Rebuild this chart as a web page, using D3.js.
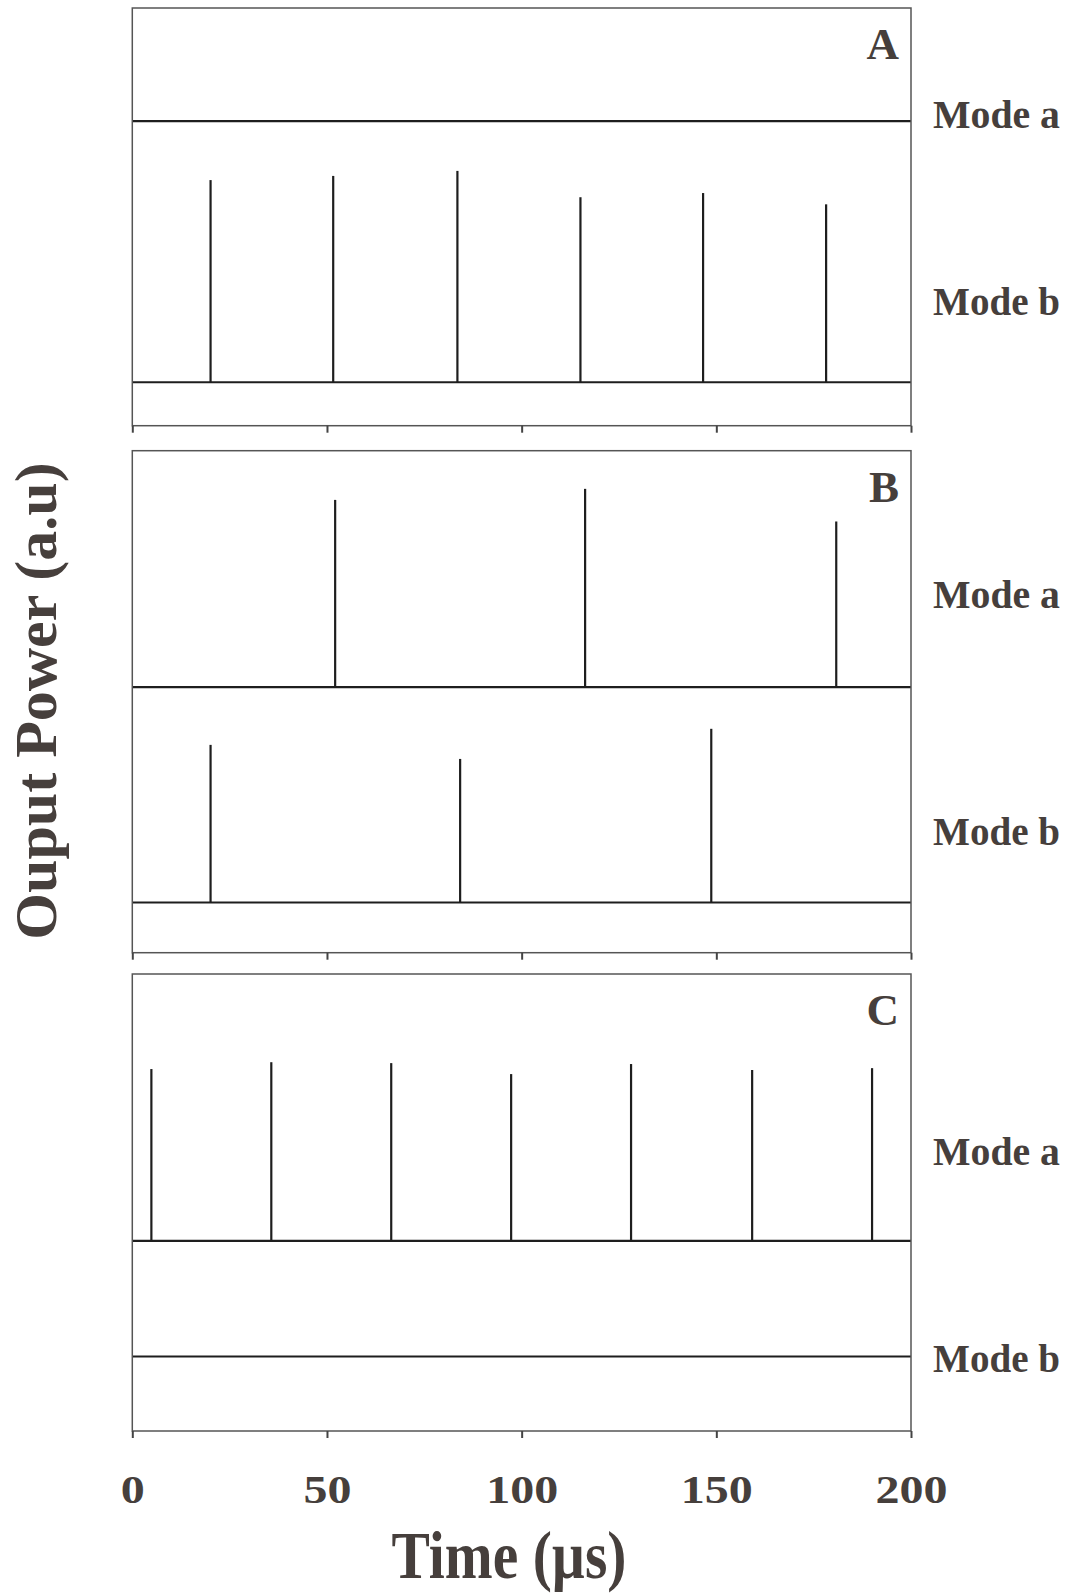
<!DOCTYPE html>
<html>
<head>
<meta charset="utf-8">
<script src="https://cdn.jsdelivr.net/npm/d3@7"></script>
<style>
  body { margin: 0; background: #fff; }
  text { font-family: "Liberation Serif", "Times New Roman", serif; font-weight: bold; fill: #463f3c; }
</style>
</head>
<body>
<div id="chart"></div>
<script>
var width = 1066,
  height = 1593;

// x axis (time in microseconds)
const timeTicks = [0, 50, 100, 150, 200];
const panelNames = ['A', 'B', 'C'];

// baseline level of each trace (a.u., 0-100 of panel height)
const baseA = [72.9, 10.4];   // mode a, mode b
const baseB = [52.9, 10.0];
const baseC = [41.6, 16.3];

// spike times (us) and peak levels (a.u.)
const spikeTimesA_b = [20.1, 51.6, 83.5, 115.1, 146.6, 178.2];
const spikePeaksA_b = [58.8, 59.8, 61.0, 54.7, 55.7, 53.0];

const spikeTimesB_a = [52.1, 116.3, 180.8];
const spikePeaksB_a = [90.2, 92.4, 85.9];
const spikeTimesB_b = [20.1, 84.2, 148.7];
const spikePeaksB_b = [41.4, 38.6, 44.6];

const spikeTimesC_a = [4.9, 35.7, 66.5, 97.3, 128.1, 159.2, 190.0];
const spikePeaksC_a = [79.2, 80.7, 80.5, 78.1, 80.3, 79.0, 79.4];

// panel layout (pixels)
var left = 132.3, right = 911;
var panels = [
  { name: panelNames[0], top: 8, bottom: 425.7, base: baseA,
    spikes: [[], d3.zip(spikeTimesA_b, spikePeaksA_b)],
    labelY: [127.7, 315] },
  { name: panelNames[1], top: 450.7, bottom: 952.7, base: baseB,
    spikes: [d3.zip(spikeTimesB_a, spikePeaksB_a), d3.zip(spikeTimesB_b, spikePeaksB_b)],
    labelY: [607.7, 845] },
  { name: panelNames[2], top: 974, bottom: 1431, base: baseC,
    spikes: [d3.zip(spikeTimesC_a, spikePeaksC_a), []],
    labelY: [1165, 1372] }
];
var modeNames = ['Mode a', 'Mode b'];

var svg = d3.select('#chart')
  .append('svg')
  .attr('width', width)
  .attr('height', height);

var x = d3.scaleLinear().domain([0, 200]).range([left, right]);

panels.forEach(function(p, pi) {
  var y = d3.scaleLinear().domain([0, 100]).range([p.bottom, p.top]);
  var g = svg.append('g');

  // traces: flat baseline plus vertical spikes
  p.base.forEach(function(b, mi) {
    g.append('line')
      .attr('x1', x(0)).attr('x2', x(200))
      .attr('y1', y(b)).attr('y2', y(b))
      .attr('stroke', '#1e1e1e')
      .attr('stroke-width', 2.2);

    g.selectAll('.spike' + mi)
      .data(p.spikes[mi])
      .join('line')
      .attr('x1', d => x(d[0])).attr('x2', d => x(d[0]))
      .attr('y1', y(b)).attr('y2', d => y(d[1]))
      .attr('stroke', '#1e1e1e')
      .attr('stroke-width', 2.2);

    g.append('text')
      .attr('x', 933)
      .attr('y', p.labelY[mi])
      .attr('font-size', 41)
      .attr('textLength', 127)
      .attr('lengthAdjust', 'spacingAndGlyphs')
      .text(modeNames[mi]);
  });

  // frame
  g.append('rect')
    .attr('x', left).attr('y', p.top)
    .attr('width', right - left).attr('height', p.bottom - p.top)
    .attr('fill', 'none')
    .attr('stroke', '#555')
    .attr('stroke-width', 1.5);

  // bottom ticks
  var axis = d3.axisBottom(x)
    .tickValues(timeTicks)
    .tickSize(7)
    .tickSizeOuter(0)
    .tickPadding(32)
    .tickFormat(pi == 2 ? d3.format('d') : '');

  var ax = g.append('g')
    .attr('transform', 'translate(0,' + p.bottom + ')')
    .call(axis);
  ax.select('.domain').remove();
  ax.selectAll('line').attr('stroke', '#444').attr('stroke-width', 2);
  ax.selectAll('text')
    .attr('font-size', 40)
    .attr('font-family', '"Liberation Serif", "Times New Roman", serif')
    .attr('fill', '#463f3c')
    .attr('dy', null)
    .attr('y', 1502.7 - p.bottom)
    .each(function() {
      var len = this.getComputedTextLength();
      d3.select(this)
        .attr('textLength', len * 1.2)
        .attr('lengthAdjust', 'spacingAndGlyphs');
    });

  // panel letter
  g.append('text')
    .attr('x', 899)
    .attr('y', p.top + 51)
    .attr('text-anchor', 'end')
    .attr('font-size', 45)
    .text(p.name);
});

// axis titles
svg.append('text')
  .attr('x', 509)
  .attr('y', 1578)
  .attr('text-anchor', 'middle')
  .attr('font-size', 68)
  .attr('textLength', 235)
  .attr('lengthAdjust', 'spacingAndGlyphs')
  .text('Time (µs)');

svg.append('text')
  .attr('transform', 'translate(56,701) rotate(-90)')
  .attr('text-anchor', 'middle')
  .attr('font-size', 60)
  .text('Ouput Power (a.u)');
</script>
</body>
</html>
